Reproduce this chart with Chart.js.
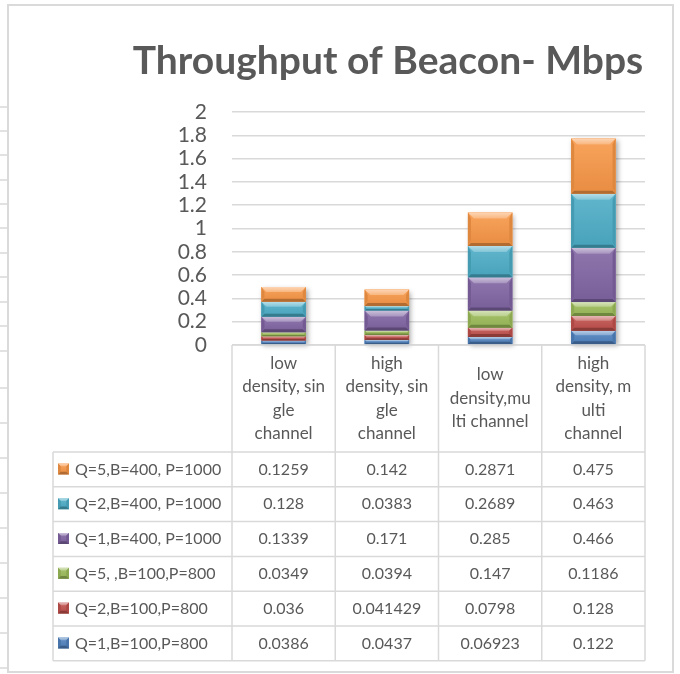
<!DOCTYPE html>
<html>
<head>
<meta charset="utf-8">
<script src="https://cdn.jsdelivr.net/npm/chart.js@4/dist/chart.umd.min.js"></script>
<style>
  html, body { margin: 0; padding: 0; background: #ffffff; }
  #wrap { width: 680px; height: 674px; position: relative; }
</style>
</head>
<body>
<div id="wrap"><canvas id="chart" width="680" height="674"></canvas></div>
<script>
// Scenario names (x categories) and how they wrap in the table header
const categories = [
  'low density, single channel',
  'high density, single channel',
  'low density,multi channel',
  'high density, multi channel'
];
const categoryLines = [
  ['low', 'density, sin', 'gle', 'channel'],
  ['high', 'density, sin', 'gle', 'channel'],
  ['low', 'density,mu', 'lti channel'],
  ['high', 'density, m', 'ulti', 'channel']
];

// Series, bottom of the stack first
const seriesNames = [
  'Q=1,B=100,P=800',
  'Q=2,B=100,P=800',
  'Q=5, ,B=100,P=800',
  'Q=1,B=400, P=1000',
  'Q=2,B=400, P=1000',
  'Q=5,B=400, P=1000'
];
const q1b100 = [0.0386, 0.0437, 0.06923, 0.122];
const q2b100 = [0.036, 0.041429, 0.0798, 0.128];
const q5b100 = [0.0349, 0.0394, 0.147, 0.1186];
const q1b400 = [0.1339, 0.171, 0.285, 0.466];
const q2b400 = [0.128, 0.0383, 0.2689, 0.463];
const q5b400 = [0.1259, 0.142, 0.2871, 0.475];
const seriesValues = [q1b100, q2b100, q5b100, q1b400, q2b400, q5b400];

// Value axis ticks
const yTickValues = [0, 0.2, 0.4, 0.6, 0.8, 1, 1.2, 1.4, 1.6, 1.8, 2];

const seriesColors = ['#4F81BD', '#C0504D', '#9BBB59', '#8064A2', '#4BACC6', '#F79646'];
const textColor = '#595959';
const lineColor = '#d9d9d9';
const fontFamily = 'Lato, "Open Sans", sans-serif';

function hexToRgb(hex) {
  const n = parseInt(hex.slice(1), 16);
  return [(n >> 16) & 255, (n >> 8) & 255, n & 255];
}
function mix(hex, target, t, alpha) {
  const c = hexToRgb(hex);
  const r = c.map((v, i) => Math.round(v + (target[i] - v) * t));
  return 'rgba(' + r[0] + ',' + r[1] + ',' + r[2] + ',' + (alpha === undefined ? 1 : alpha) + ')';
}
const WHITE = [255, 255, 255], BLACK = [0, 0, 0];

// Draws a bevelled box (light top edge, slightly darker sides and bottom)
function bevelBox(ctx, left, top, right, bottom, color) {
  const w = right - left, h = bottom - top;
  if (h <= 0 || w <= 0) return;
  const d = Math.max(0.5, Math.min(6, h / 3, w / 4));
  const face = ctx.createLinearGradient(0, top, 0, bottom);
  face.addColorStop(0, mix(color, WHITE, 0.12));
  face.addColorStop(1, mix(color, BLACK, 0.06));
  ctx.fillStyle = face;
  ctx.fillRect(left, top, w, h);

  const topG = ctx.createLinearGradient(0, top, 0, top + d);
  topG.addColorStop(0, mix(color, WHITE, 0.6));
  topG.addColorStop(1, mix(color, WHITE, 0.3));
  ctx.fillStyle = topG;
  ctx.beginPath();
  ctx.moveTo(left, top); ctx.lineTo(right, top);
  ctx.lineTo(right - d, top + d); ctx.lineTo(left + d, top + d);
  ctx.closePath(); ctx.fill();

  const sd = Math.min(d, 3);
  ctx.fillStyle = mix(color, BLACK, 0.1);
  ctx.beginPath();
  ctx.moveTo(left, top); ctx.lineTo(left + sd, top + d);
  ctx.lineTo(left + sd, bottom - d); ctx.lineTo(left, bottom);
  ctx.closePath(); ctx.fill();
  ctx.beginPath();
  ctx.moveTo(right, top); ctx.lineTo(right - sd, top + d);
  ctx.lineTo(right - sd, bottom - d); ctx.lineTo(right, bottom);
  ctx.closePath(); ctx.fill();

  ctx.fillStyle = mix(color, BLACK, 0.28);
  ctx.beginPath();
  ctx.moveTo(left, bottom); ctx.lineTo(left + sd, bottom - Math.min(d, 3));
  ctx.lineTo(right - sd, bottom - Math.min(d, 3)); ctx.lineTo(right, bottom);
  ctx.closePath(); ctx.fill();
}

// Sheet background, frame, bar shadows and bevels
const bevelPlugin = {
  id: 'bevel',
  beforeDraw(chart) {
    const ctx = chart.ctx;
    ctx.save();
    ctx.fillStyle = '#ffffff';
    ctx.fillRect(0, 0, chart.width, chart.height);
    // spreadsheet row lines peeking out at the left edge
    ctx.strokeStyle = lineColor;
    ctx.lineWidth = 1.5;
    const rowLines = [107, 131, 155, 180, 204, 228, 253, 277, 302, 326, 351, 388, 423, 458, 493, 528, 563, 598, 633, 668];
    rowLines.forEach(y => { ctx.beginPath(); ctx.moveTo(0, y); ctx.lineTo(8, y); ctx.stroke(); });
    // chart frame
    ctx.lineWidth = 2;
    ctx.strokeStyle = '#dadada';
    ctx.strokeRect(8, 5, 665, 667);
    ctx.restore();
  },
  beforeDatasetsDraw(chart) {
    const ctx = chart.ctx;
    const n = chart.data.datasets.length;
    const first = chart.getDatasetMeta(0).data;
    const last = chart.getDatasetMeta(n - 1).data;
    ctx.save();
    ctx.shadowColor = 'rgba(0,0,0,0.35)';
    ctx.shadowBlur = 5;
    ctx.shadowOffsetX = 2;
    ctx.shadowOffsetY = 2;
    ctx.fillStyle = '#ffffff';
    first.forEach((el, i) => {
      const a = el.getProps(['x', 'base', 'width'], true);
      const b = last[i].getProps(['y'], true);
      ctx.fillRect(a.x - a.width / 2, b.y, a.width, a.base - b.y);
    });
    ctx.restore();
  },
  afterDatasetsDraw(chart) {
    const ctx = chart.ctx;
    ctx.save();
    chart.data.datasets.forEach((ds, di) => {
      chart.getDatasetMeta(di).data.forEach(el => {
        const p = el.getProps(['x', 'y', 'base', 'width'], true);
        const top = Math.min(p.y, p.base), bottom = Math.max(p.y, p.base);
        bevelBox(ctx, p.x - p.width / 2, top, p.x + p.width / 2, bottom, seriesColors[di]);
      });
    });
    ctx.restore();
  }
};

// Title and the data table under the plot
const tablePlugin = {
  id: 'dataTable',
  afterDraw(chart) {
    const ctx = chart.ctx;
    const ca = chart.chartArea;
    const xs = chart.scales.x;
    const colW = (ca.right - ca.left) / categories.length;
    const headerTop = ca.bottom;
    const headerBottom = 452;
    const rowH = 34.8;
    const nRows = seriesNames.length;
    const tableBottom = headerBottom + rowH * nRows;
    const legendLeft = 53;

    ctx.save();
    // title
    ctx.fillStyle = textColor;
    ctx.font = 'bold 39px ' + fontFamily;
    ctx.textAlign = 'center';
    ctx.textBaseline = 'alphabetic';
    ctx.fillText('Throughput of Beacon- Mbps', 388, 74);

    // grid of the table
    ctx.strokeStyle = lineColor;
    ctx.lineWidth = 1.5;
    ctx.beginPath();
    ctx.moveTo(ca.left, headerTop); ctx.lineTo(ca.right, headerTop);
    for (let r = 0; r <= nRows; r++) {
      const y = headerBottom + r * rowH;
      ctx.moveTo(legendLeft, y); ctx.lineTo(ca.right, y);
    }
    for (let c = 0; c <= categories.length; c++) {
      const x = ca.left + c * colW;
      ctx.moveTo(x, headerTop); ctx.lineTo(x, tableBottom);
    }
    ctx.moveTo(legendLeft, headerBottom); ctx.lineTo(legendLeft, tableBottom);
    ctx.stroke();

    // header: wrapped category names
    ctx.fillStyle = textColor;
    ctx.font = '17px ' + fontFamily;
    ctx.textAlign = 'center';
    ctx.textBaseline = 'middle';
    const lh = 23.5;
    const midY = (headerTop + headerBottom) / 2;
    categoryLines.forEach((lines, i) => {
      const cx = xs.getPixelForValue(i);
      const y0 = midY - (lines.length - 1) * lh / 2;
      lines.forEach((t, k) => ctx.fillText(t, cx, y0 + k * lh));
    });

    // rows: top series first
    ctx.font = '16px ' + fontFamily;
    for (let r = 0; r < nRows; r++) {
      const si = nRows - 1 - r;
      const cy = headerBottom + r * rowH + rowH / 2;
      bevelBox(ctx, 58, cy - 6, 69, cy + 5, seriesColors[si]);
      ctx.fillStyle = textColor;
      ctx.textAlign = 'left';
      ctx.fillText(seriesNames[si], 75, cy);
      ctx.textAlign = 'center';
      seriesValues[si].forEach((v, ci) => {
        ctx.fillText(String(v), xs.getPixelForValue(ci), cy);
      });
    }
    ctx.restore();
  }
};

const datasets = seriesNames.map((name, i) => ({
  label: name,
  data: seriesValues[i],
  backgroundColor: seriesColors[i],
  borderWidth: 0,
  barPercentage: 0.43,
  categoryPercentage: 1
}));

new Chart(document.getElementById('chart'), {
  type: 'bar',
  data: { labels: categories, datasets },
  plugins: [bevelPlugin, tablePlugin],
  options: {
    responsive: false,
    animation: false,
    layout: { padding: { top: 112, bottom: 329, left: 8, right: 35 } },
    plugins: {
      legend: { display: false },
      title: { display: false },
      tooltip: { enabled: false }
    },
    scales: {
      x: { stacked: true, display: false },
      y: {
        stacked: true,
        min: 0,
        max: 2,
        afterBuildTicks(scale) { scale.ticks = yTickValues.map(v => ({ value: v })); },
        afterFit(scale) { scale.width = 224; },
        border: { display: false },
        grid: { color: lineColor, lineWidth: 1.5, drawTicks: false },
        ticks: {
          color: textColor,
          padding: 25,
          autoSkip: false,
          callback: (v) => String(v),
          font: { family: fontFamily, size: 21 }
        }
      }
    }
  }
});
</script>
</body>
</html>
